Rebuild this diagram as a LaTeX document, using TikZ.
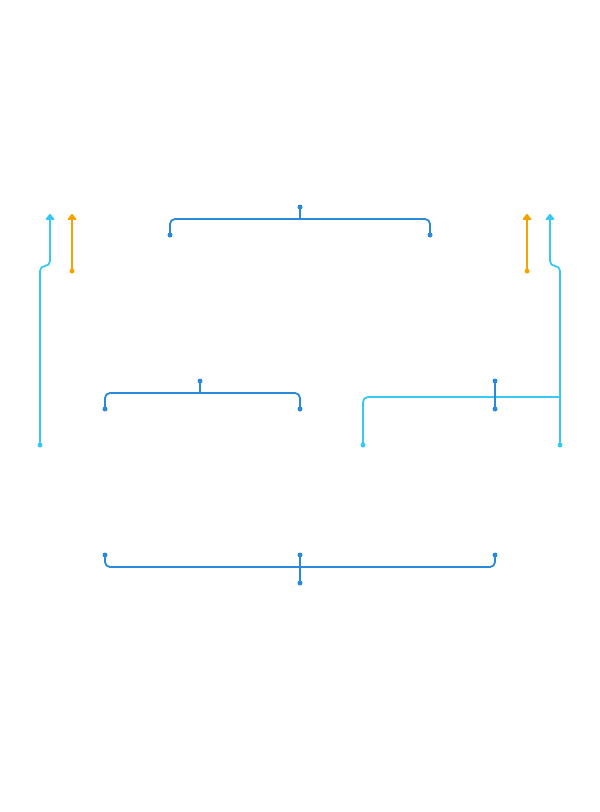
\documentclass[tikz,border=0pt]{standalone}
\usetikzlibrary{arrows.meta}
\definecolor{dblue}{RGB}{43,137,217}
\definecolor{cyanl}{RGB}{56,200,245}
\definecolor{orng}{RGB}{245,163,0}
\begin{document}
\begin{tikzpicture}[x=1pt,y=-1pt,
  conn/.style={line width=1.8pt, rounded corners=5pt},
  dotn/.style={circle, fill=#1, inner sep=0pt, minimum size=5pt},
  arr/.style={-{Triangle[width=10pt,length=6.5pt,round]}}]
\useasboundingbox (0,0) rectangle (600,812);
% top brace
\node[dotn=dblue] (t0) at (300,207) {};
\node[dotn=dblue] (t1) at (170,235) {};
\node[dotn=dblue] (t2) at (430,235) {};
\coordinate (tj) at (300,219);
\draw[conn,dblue] (t1.center) -- (170,219) -- (430,219) -- (t2.center);
\draw[conn,dblue] (t0.center) -- (tj);
% middle left brace
\node[dotn=dblue] (m0) at (200,381) {};
\node[dotn=dblue] (m1) at (105,409) {};
\node[dotn=dblue] (m2) at (300,409) {};
\coordinate (mj) at (200,393);
\draw[conn,dblue] (m1.center) -- (105,393) -- (300,393) -- (m2.center);
\draw[conn,dblue] (m0.center) -- (mj);
% bottom brace
\node[dotn=dblue] (b1) at (105,555) {};
\node[dotn=dblue] (b2) at (300,555) {};
\node[dotn=dblue] (b3) at (495,555) {};
\node[dotn=dblue] (b4) at (300,583) {};
\draw[conn,dblue] (b1.center) -- (105,567) -- (495,567) -- (b3.center);
\draw[conn,dblue] (b2.center) -- (b4.center);
% left arrows
\node[dotn=cyanl] (lc) at (40,445) {};
\coordinate (lct) at (50,214);
\draw[conn,cyanl,arr] (lc.center) -- (40,266) -- (50,266) -- (lct);
\node[dotn=orng] (lo) at (72,271) {};
\coordinate (lot) at (72,214);
\draw[conn,orng,arr] (lo.center) -- (lot);
% right arrows
\node[dotn=cyanl] (rc) at (560,445) {};
\coordinate (rct) at (550,214);
\draw[conn,cyanl,arr] (rc.center) -- (560,266) -- (550,266) -- (rct);
\node[dotn=orng] (ro) at (527,271) {};
\coordinate (rot) at (527,214);
\draw[conn,orng,arr] (ro.center) -- (rot);
% right cyan branch
\node[dotn=cyanl] (rb) at (363,445) {};
\coordinate (rj) at (560,397);
\draw[conn,cyanl] (rb.center) -- (363,397) -- (rj);
% right dark blue segment
\node[dotn=dblue] (r1) at (495,381) {};
\node[dotn=dblue] (r2) at (495,409) {};
\draw[conn,dblue] (r1.center) -- (r2.center);
\end{tikzpicture}
\end{document}
